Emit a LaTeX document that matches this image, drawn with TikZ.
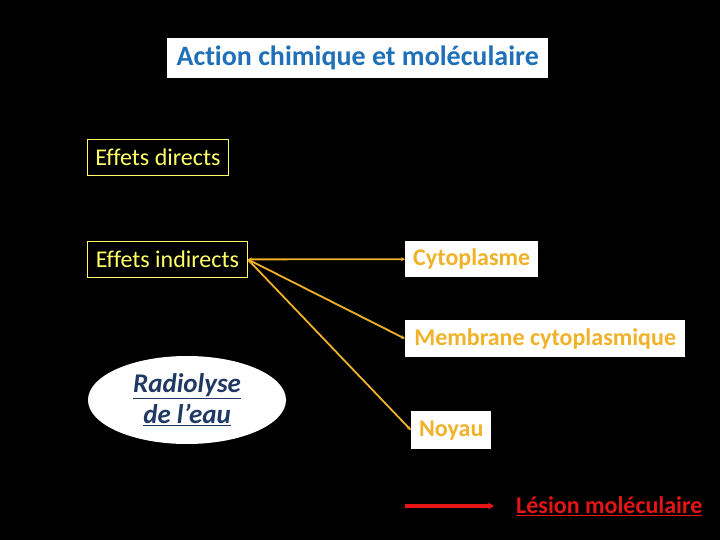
\documentclass[tikz,border=0pt]{standalone}
\usepackage{fontspec}
\setmainfont{Carlito}[Ligatures={NoCommon}]
\usetikzlibrary{arrows.meta,shapes.geometric}
\definecolor{titleblue}{RGB}{31,112,185}
\definecolor{ylw}{RGB}{255,255,102}
\definecolor{orng}{RGB}{240,178,40}
\definecolor{dblue}{RGB}{31,56,100}
\definecolor{lred}{RGB}{230,20,20}
\tikzset{
  ybox/.style={draw=ylw, line width=0.8pt, text=ylw, inner sep=0pt, inner xsep=7pt, minimum height=36pt, font=\fontsize{24}{28}\selectfont, anchor=north west},
  wbox/.style={fill=white, text=orng, inner sep=0pt, font=\bfseries\fontsize{24}{28}\selectfont, anchor=north west},
  link/.style={draw=orng, line width=1.8pt, {Stealth[length=4pt,width=4pt]}-{Stealth[length=4pt,width=4pt]}}
}
\begin{document}
\begin{tikzpicture}[x=1pt,y=-1pt]
\fill[black] (0,0) rectangle (720,540);
\useasboundingbox (0,0) rectangle (720,540);
\node[fill=white, text=titleblue, font=\bfseries\fontsize{28}{32}\selectfont, minimum width=381pt, minimum height=40pt, inner sep=0pt, anchor=north west] (title) at (167,38) {Action chimique et moléculaire};
\node[ybox, minimum width=141pt] (dir) at (87,139) {Effets directs};
\node[ybox, minimum width=160pt] (ind) at (87,241) {Effets indirects};
\node[wbox, minimum width=133pt, minimum height=36pt] (cyt) at (405,241) {\raisebox{-2pt}{Cytoplasme}};
\node[wbox, minimum width=280pt, minimum height=37pt] (mem) at (405,320) {\raisebox{-2pt}{Membrane cytoplasmique}};
\node[wbox, minimum width=80pt, minimum height=38pt] (noy) at (411,411) {\raisebox{-2pt}{Noyau}};
\node[ellipse, fill=white, minimum width=198pt, minimum height=88pt, inner sep=0pt, text=dblue, font=\bfseries\itshape\fontsize{27}{30}\selectfont, align=center] (rad) at (187,400) {\underline{Radiolyse}\\[1pt]\underline{de l’eau}};
\draw[link] (ind.east) -- (cyt.west);
\draw[link] (ind.east) -- (mem.west);
\draw[link] (ind.east) -- (noy.west);
\coordinate (ra) at (405,506);
\coordinate (rb) at (494,506);
\draw[draw=lred, line width=4pt, -{Stealth[length=6pt,width=7pt]}] (ra) -- (rb);
\node[text=lred, font=\bfseries\fontsize{24}{28}\selectfont, anchor=west, inner sep=0pt] (les) at (516,506) {\underline{Lésion moléculaire}};
\end{tikzpicture}
\end{document}
